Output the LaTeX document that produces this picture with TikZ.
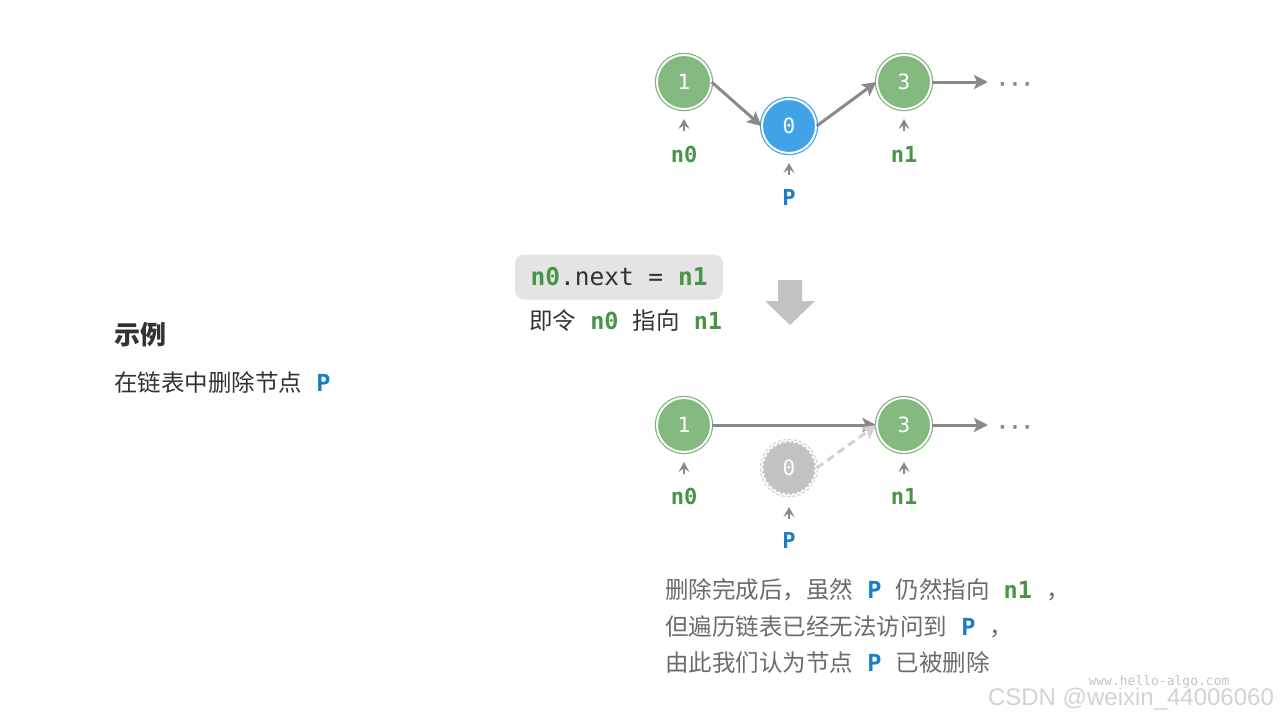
\documentclass[tikz,border=0pt]{standalone}
\usepackage{fontspec}
\setmainfont{Noto Sans CJK SC}
\setmonofont{DejaVu Sans Mono}
\newfontfamily\wmfont{Liberation Sans}
\usetikzlibrary{arrows.meta}
\definecolor{ngreen}{HTML}{84BA7F}
\definecolor{ngreenline}{HTML}{7DB578}
\definecolor{nblue}{HTML}{40A3E8}
\definecolor{ngray}{HTML}{C2C2C2}
\definecolor{ngrayline}{HTML}{D2D2D2}
\definecolor{lgreen}{HTML}{4A9447}
\definecolor{lblue}{HTML}{1A7DC6}
\definecolor{arrgray}{HTML}{8A8A8A}
\definecolor{txtgray}{HTML}{333333}
\definecolor{txtgray2}{HTML}{6B6B6B}
\definecolor{boxgray}{HTML}{E4E4E4}
\tikzset{
  lnode/.style={circle, minimum size=54pt, inner sep=0pt, fill=ngreen, draw=ngreenline,
    double=white, double distance=2pt, line width=1.2pt, text=white, font=\ttfamily\fontsize{21}{21}\selectfont},
  bnode/.style={lnode, fill=nblue, draw=nblue},
  gnode/.style={lnode, fill=ngray, draw=ngrayline, dash pattern=on 3pt off 2pt},
  link/.style={draw=arrgray, line width=3pt, -{Stealth[length=14pt,width=14pt,inset=3pt]}},
  dlink/.style={draw=ngrayline, line width=3pt, dash pattern=on 8pt off 5pt, -{Stealth[length=14pt,width=14pt,inset=3pt]}},
  ptr/.style={draw=arrgray, line width=2pt, -{Stealth[length=10pt,width=11pt,inset=4pt]}},
  gl/.style={text=lgreen, font=\ttfamily\bfseries\fontsize{22}{22}\selectfont, inner sep=0pt},
  bl/.style={text=lblue, font=\ttfamily\bfseries\fontsize{22}{22}\selectfont, inner sep=0pt},
  dots/.style={text=arrgray, font=\ttfamily\bfseries\fontsize{20.5}{20.5}\selectfont, inner sep=0pt},
  txt/.style={anchor=west, inner sep=0pt, font=\fontsize{23.5}{23.5}\selectfont},
}
\newcommand{\gm}[1]{{\color{lgreen}\ttfamily\bfseries #1}}
\newcommand{\bm}[1]{{\color{lblue}\ttfamily\bfseries #1}}
\newcommand{\gp}{\hspace{0.6em}}
\begin{document}
\begin{tikzpicture}[x=1pt,y=-1pt]
\useasboundingbox (0,0) rectangle (1280,720);
% ---- top list ----
\node[lnode] (a1) at (684,82) {1};
\node[bnode] (a0) at (789,126) {0};
\node[lnode] (a3) at (904,82) {3};
\node[dots] (adots) at (1015,87) {···};
\coordinate (aend) at (988,82);
\draw[link] (a1.east) -- (a0.west);
\draw[link] (a0.east) -- (a3.west);
\draw[link] (a3) -- (aend);
\node[gl] (an0) at (684,154) {n0};
\node[gl] (an1) at (904,154) {n1};
\node[bl] (aP) at (789,197) {P};
\coordinate (t1) at (684,119); \coordinate (t1b) at (684,131);
\coordinate (t3) at (904,119); \coordinate (t3b) at (904,131);
\coordinate (t0) at (789,163); \coordinate (t0b) at (789,175);
\draw[ptr] (t1b) -- (t1);
\draw[ptr] (t3b) -- (t3);
\draw[ptr] (t0b) -- (t0);
% ---- middle ----
\node[fill=boxgray, rounded corners=9pt, minimum width=208pt, minimum height=45pt, inner sep=0pt,
  font=\ttfamily\fontsize{24.5}{24.5}\selectfont, text=txtgray] (code) at (619,277)
  {\gm{n0}.next = \gm{n1}};
\node[txt, text=txtgray] (cap) at (529,321) {即令\gp\gm{n0}\gp 指向\gp\gm{n1}};
\fill[ngray] (778,280) -- (802,280) -- (802,301) -- (815,301) -- (790,325) -- (765,301) -- (778,301) -- cycle;
\node[txt, text=txtgray, font=\bfseries\fontsize{26}{26}\selectfont] (title) at (114,335) {示例};
\node[txt, text=txtgray] (sub) at (114,382) {在链表中删除节点\gp\bm{P}};
% ---- bottom list ----
\node[lnode] (b1) at (684,425) {1};
\node[gnode] (b0) at (789,468) {0};
\node[lnode] (b3) at (904,425) {3};
\node[dots] (bdots) at (1015,430) {···};
\coordinate (bend) at (988,425);
\draw[link] (b1) -- (b3);
\draw[dlink] (b0.east) -- (b3.west);
\draw[link] (b3) -- (bend);
\node[gl] (bn0) at (684,496) {n0};
\node[gl] (bn1) at (904,496) {n1};
\node[bl] (bP) at (789,540) {P};
\coordinate (s1) at (684,462); \coordinate (s1b) at (684,474);
\coordinate (s3) at (904,462); \coordinate (s3b) at (904,474);
\coordinate (s0) at (789,507); \coordinate (s0b) at (789,519);
\draw[ptr] (s1b) -- (s1);
\draw[ptr] (s3b) -- (s3);
\draw[ptr] (s0b) -- (s0);
% ---- explanation ----
\node[txt, text=txtgray2] (e1) at (665,590) {删除完成后，虽然\gp\bm{P}\gp 仍然指向\gp\gm{n1}\gp ，};
\node[txt, text=txtgray2] (e2) at (665,627) {但遍历链表已经无法访问到\gp\bm{P}\gp ，};
\node[txt, text=txtgray2] (e3) at (665,663) {由此我们认为节点\gp\bm{P}\gp 已被删除};
% ---- watermarks ----
\node[inner sep=0pt, text=ngray, font=\ttfamily\fontsize{13}{13}\selectfont] (w1) at (1159,682) {www.hello-algo.com};
\node[inner sep=0pt, text=ngrayline, font=\wmfont\fontsize{24}{24}\selectfont] (w2) at (1131,699) {CSDN @weixin\_44006060};
\end{tikzpicture}
\end{document}
